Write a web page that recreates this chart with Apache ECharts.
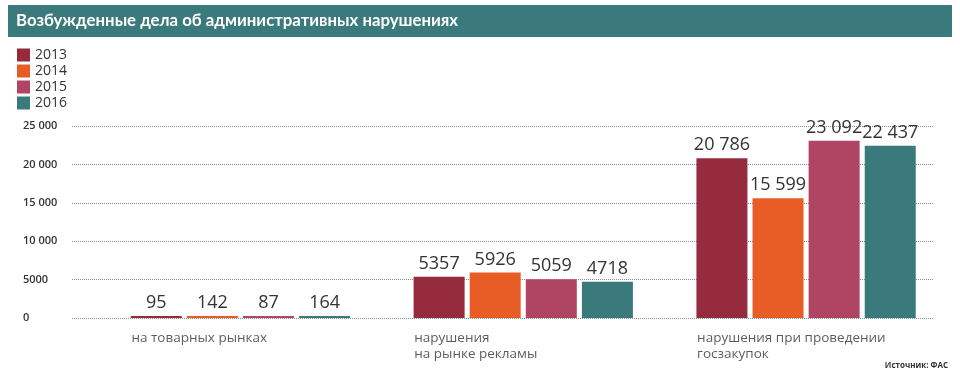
<!DOCTYPE html>
<html><head><meta charset="utf-8">
<script src="https://cdn.jsdelivr.net/npm/echarts@6/dist/echarts.min.js"></script>
<style>html,body{margin:0;padding:0;background:#fff}#c{width:960px;height:384px}</style>
</head><body><div id="c"></div>
<script>
const titleText = 'Возбужденные дела об административных нарушениях';
const sourceText = 'Источник: ФАС';
const categories = ['на товарных рынках', 'нарушения\nна рынке рекламы', 'нарушения при проведении\nгосзакупок'];
const years = ['2013', '2014', '2015', '2016'];
const colors = ['#952b3c', '#e85d26', '#b04563', '#3a7a7c'];
const v2013 = [95, 5357, 20786];
const v2014 = [142, 5926, 15599];
const v2015 = [87, 5059, 23092];
const v2016 = [164, 4718, 22437];
const seriesValues = [v2013, v2014, v2015, v2016];
const yTicks = [0, 5000, 10000, 15000, 20000, 25000];

function fmt(n) {
  const s = String(n);
  if (s.length <= 4) return s;
  return s.replace(/\B(?=(\d{3})+(?!\d))/g, ' ');
}

const chart = echarts.init(document.getElementById('c'), null, {renderer: 'canvas'});
const font = 'Open Sans';
const series = years.map((y, i) => ({
  name: y, type: 'bar', xAxisIndex: 0, yAxisIndex: 0,
  data: seriesValues[i],
  barWidth: 51, barGap: '10%', barMinHeight: 2,
  itemStyle: {color: colors[i]},
  label: {show: true, position: 'top', distance: 4, color: '#333', fontFamily: font,
    fontSize: 18, formatter: p => fmt(p.value)}
}));
series.push({
  type: 'scatter', xAxisIndex: 0, yAxisIndex: 0, symbolSize: 0, silent: true,
  data: categories.map((c, i) => [i, 0]),
  label: {show: true, position: [-109, 12], align: 'left', verticalAlign: 'top',
    color: '#333', fontFamily: font, fontSize: 13.5, lineHeight: 16,
    formatter: p => categories[p.dataIndex]},
  z: 5
});
series.push({type: 'line', xAxisIndex: 1, yAxisIndex: 1, data: [], silent: true});

chart.setOption({
  animation: false,
  graphic: [
    {type: 'rect', shape: {x: 8, y: 5, width: 944, height: 32}, style: {fill: '#3a7a7c'}, z: 0},
    {type: 'text', x: 16, y: 21, style: {text: titleText, fill: '#fff', font: 'bold 16.8px Lato', textVerticalAlign: 'middle'}, z: 1},
    {type: 'text', right: 12, top: 362, style: {text: sourceText, fill: '#333', font: 'bold 8px "Open Sans"'}}
  ],
  legend: {
    orient: 'vertical', left: 12, top: 43, itemWidth: 13, itemHeight: 13, itemGap: 2,
    icon: 'rect', data: years,
    textStyle: {fontFamily: font, fontSize: 14, color: '#333', lineHeight: 14}
  },
  grid: [
    {left: 99, right: 12.5, top: 126, bottom: 66, containLabel: false},
    {left: 72, right: 26, top: 126, bottom: 66, containLabel: false}
  ],
  xAxis: [
    {type: 'category', gridIndex: 0, data: categories, axisLine: {show: false}, axisTick: {show: false},
      axisLabel: {show: false}},
    {type: 'category', gridIndex: 1, data: ['a'], show: false}
  ],
  yAxis: [
    {type: 'value', gridIndex: 0, min: 0, max: 25000, interval: 5000, show: false},
    {type: 'value', gridIndex: 1, min: 0, max: 25000, interval: 5000,
      axisLine: {show: false}, axisTick: {show: false},
      splitLine: {show: true, lineStyle: {color: '#8a8a8a', type: [1, 1], width: 1}},
      axisLabel: {align: 'left', margin: 49, color: '#333', fontFamily: font, fontSize: 11, fontWeight: 600,
        formatter: v => yTicks.includes(v) ? fmt(v) : ''}}
  ],
  series: series
});
</script></body></html>
